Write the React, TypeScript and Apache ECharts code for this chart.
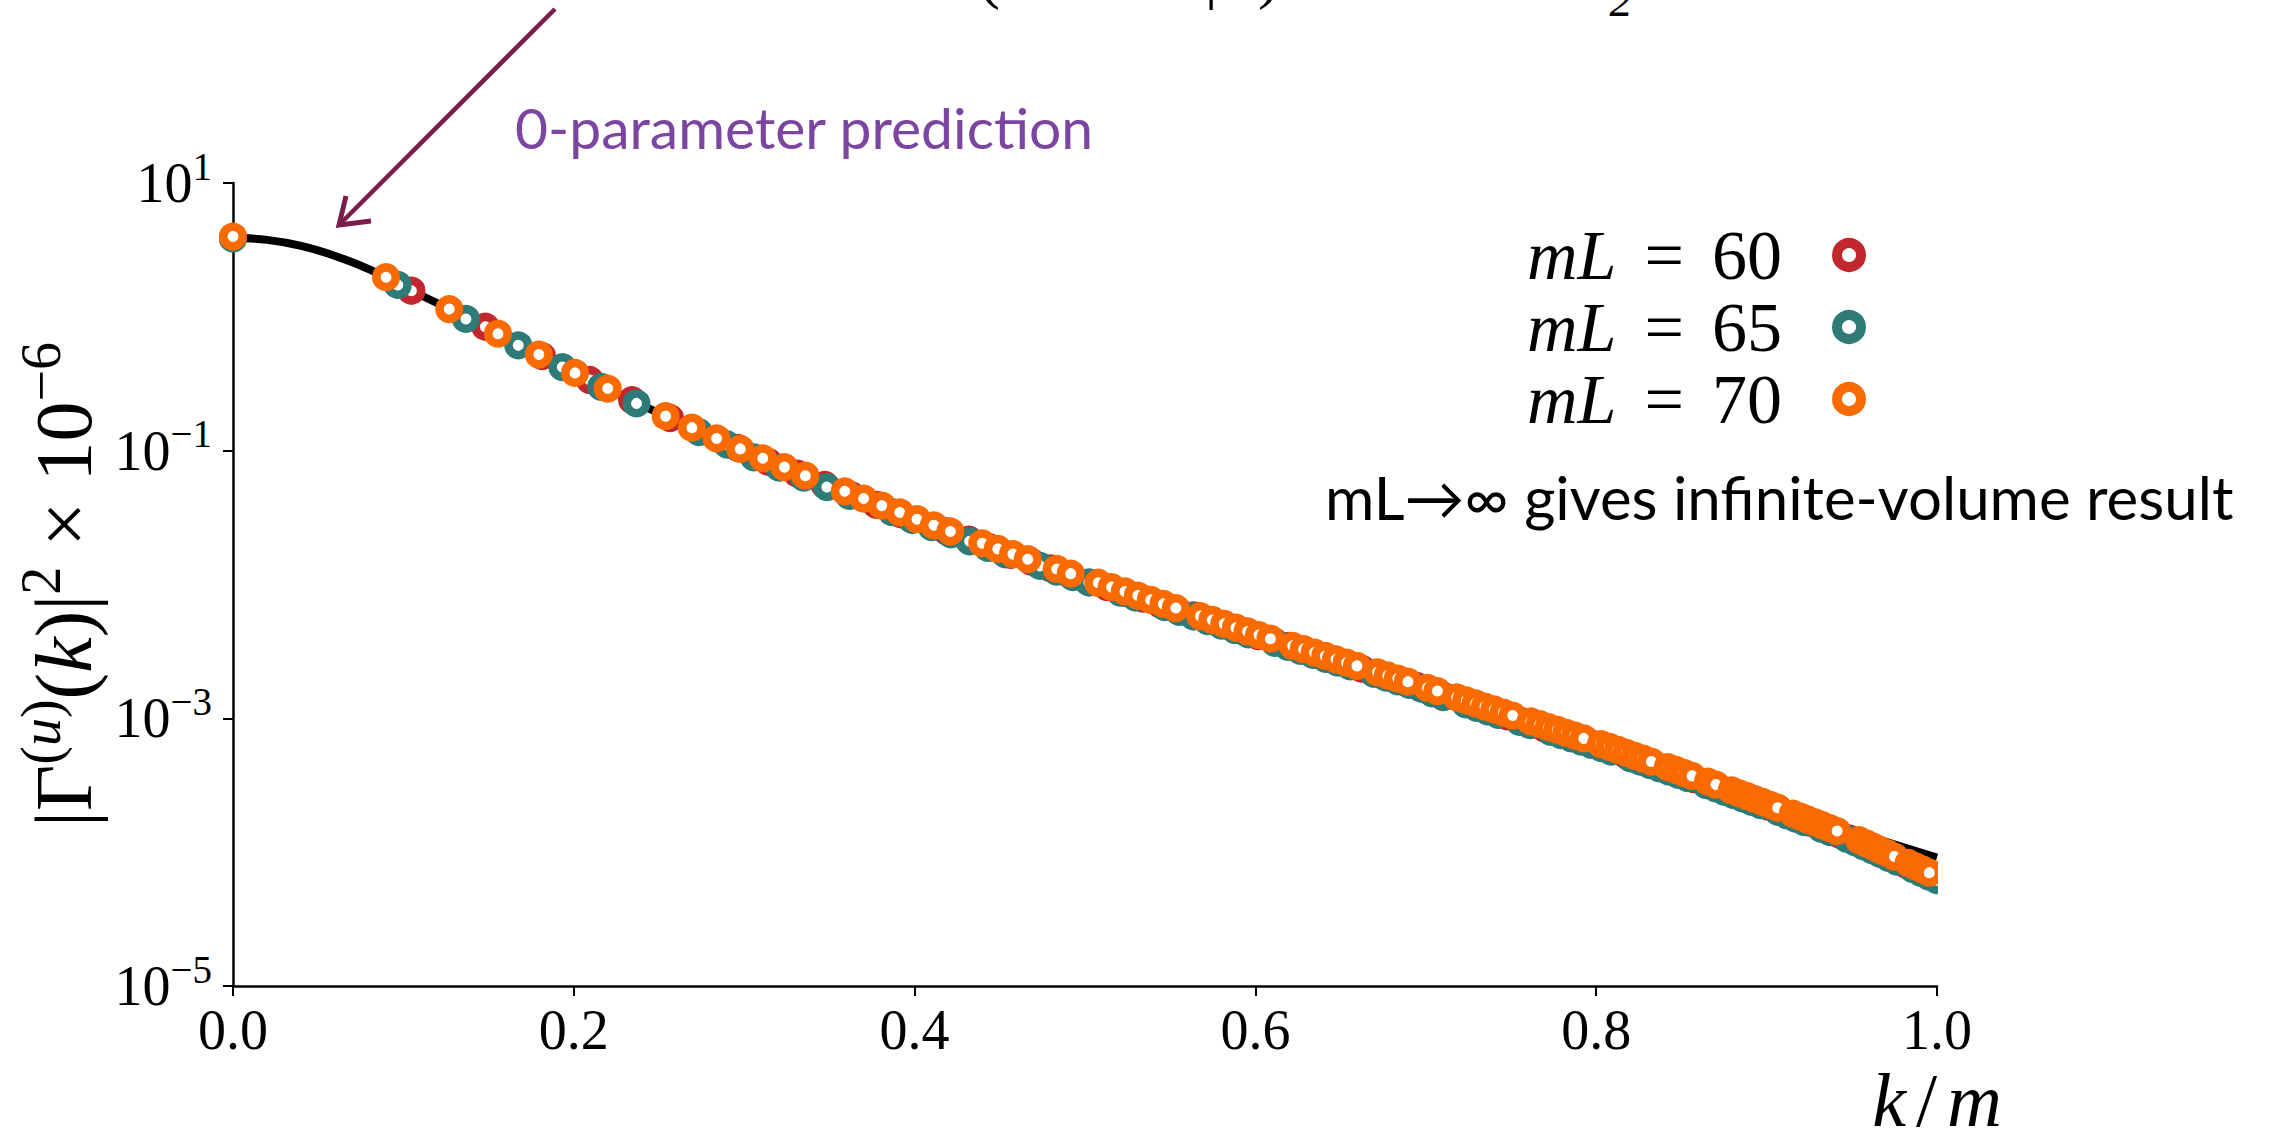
import React, { useEffect, useRef } from "react";
import * as echarts from "echarts";

// k/m of the allowed lattice momenta in each box, with log10(|Γ(u)(k)|² × 10⁶)
const k60 = [0, 0.1047, 0.1481, 0.1814, 0.2094, 0.2342, 0.2565, 0.2962, 0.3142, 0.3312,
  0.3473, 0.3628, 0.3776, 0.3918, 0.4189, 0.4318, 0.4443, 0.4565, 0.4683, 0.4799,
  0.4912, 0.5130, 0.5236, 0.5340, 0.5441, 0.5639, 0.5736, 0.5924, 0.6016, 0.6106,
  0.6195, 0.6283, 0.6370, 0.6455, 0.6623, 0.6705, 0.6787, 0.6867, 0.6946, 0.7025,
  0.7102, 0.7255, 0.7330, 0.7405, 0.7478, 0.7551, 0.7624, 0.7695, 0.7836, 0.7906,
  0.7975, 0.8044, 0.8179, 0.8246, 0.8378, 0.8443, 0.8507, 0.8572, 0.8635, 0.8699,
  0.8761, 0.8886, 0.8947, 0.9008, 0.9069, 0.9129, 0.9189, 0.9249, 0.9366, 0.9425,
  0.9483, 0.9540, 0.9598, 0.9655, 0.9711, 0.9823, 0.9879, 0.9934, 0.9990];
const log60 = [0.590, 0.195, -0.074, -0.294, -0.472, -0.622, -0.756, -0.979, -1.084, -1.172,
  -1.256, -1.333, -1.405, -1.475, -1.604, -1.664, -1.723, -1.778, -1.829, -1.879,
  -1.927, -2.019, -2.063, -2.106, -2.148, -2.230, -2.270, -2.348, -2.386, -2.422,
  -2.458, -2.493, -2.528, -2.562, -2.629, -2.661, -2.694, -2.725, -2.757, -2.798,
  -2.830, -2.894, -2.925, -2.956, -2.986, -3.016, -3.046, -3.075, -3.133, -3.161,
  -3.190, -3.219, -3.279, -3.308, -3.366, -3.395, -3.423, -3.454, -3.483, -3.514,
  -3.543, -3.601, -3.630, -3.659, -3.690, -3.720, -3.750, -3.780, -3.838, -3.868,
  -3.897, -3.929, -3.963, -3.996, -4.029, -4.096, -4.129, -4.161, -4.194];

const k65 = [0, 0.0967, 0.1367, 0.1674, 0.1933, 0.2161, 0.2368, 0.2734, 0.2900, 0.3057,
  0.3206, 0.3349, 0.3485, 0.3617, 0.3867, 0.3986, 0.4101, 0.4214, 0.4323, 0.4430,
  0.4534, 0.4736, 0.4833, 0.4929, 0.5023, 0.5206, 0.5295, 0.5468, 0.5553, 0.5636,
  0.5719, 0.5800, 0.5880, 0.5959, 0.6114, 0.6190, 0.6265, 0.6339, 0.6412, 0.6484,
  0.6556, 0.6697, 0.6767, 0.6835, 0.6903, 0.6971, 0.7037, 0.7103, 0.7234, 0.7298,
  0.7362, 0.7425, 0.7550, 0.7611, 0.7733, 0.7793, 0.7853, 0.7912, 0.7971, 0.8030,
  0.8088, 0.8202, 0.8259, 0.8315, 0.8371, 0.8427, 0.8482, 0.8537, 0.8646, 0.8700,
  0.8753, 0.8807, 0.8859, 0.8912, 0.8964, 0.9068, 0.9119, 0.9170, 0.9221, 0.9322,
  0.9372, 0.9471, 0.9520, 0.9569, 0.9618, 0.9666, 0.9715, 0.9763, 0.9858, 0.9905,
  0.9952, 0.9999];
const log65 = [0.585, 0.238, -0.016, -0.213, -0.375, -0.523, -0.647, -0.861, -0.954, -1.050,
  -1.127, -1.201, -1.272, -1.337, -1.460, -1.518, -1.572, -1.626, -1.677, -1.727,
  -1.775, -1.861, -1.903, -1.944, -1.985, -2.060, -2.097, -2.169, -2.204, -2.239,
  -2.273, -2.307, -2.340, -2.373, -2.436, -2.466, -2.496, -2.526, -2.555, -2.584,
  -2.612, -2.668, -2.696, -2.723, -2.750, -2.777, -2.813, -2.841, -2.895, -2.921,
  -2.948, -2.974, -3.026, -3.051, -3.101, -3.125, -3.150, -3.174, -3.198, -3.223,
  -3.249, -3.299, -3.324, -3.349, -3.373, -3.398, -3.422, -3.447, -3.499, -3.524,
  -3.549, -3.574, -3.599, -3.624, -3.648, -3.699, -3.725, -3.750, -3.776, -3.826,
  -3.851, -3.901, -3.927, -3.956, -3.985, -4.013, -4.042, -4.070, -4.126, -4.154,
  -4.182, -4.209];

const k70 = [0, 0.0898, 0.1269, 0.1555, 0.1795, 0.2007, 0.2199, 0.2539, 0.2693, 0.2838,
  0.2977, 0.3109, 0.3236, 0.3359, 0.3590, 0.3701, 0.3808, 0.3913, 0.4014, 0.4113,
  0.4210, 0.4397, 0.4488, 0.4577, 0.4664, 0.4834, 0.4916, 0.5078, 0.5156, 0.5234,
  0.5310, 0.5386, 0.5460, 0.5533, 0.5677, 0.5747, 0.5817, 0.5886, 0.5954, 0.6021,
  0.6088, 0.6219, 0.6283, 0.6347, 0.6410, 0.6473, 0.6535, 0.6596, 0.6717, 0.6777,
  0.6836, 0.6895, 0.7010, 0.7068, 0.7181, 0.7237, 0.7292, 0.7347, 0.7402, 0.7456,
  0.7510, 0.7616, 0.7669, 0.7721, 0.7773, 0.7825, 0.7876, 0.7927, 0.8028, 0.8078,
  0.8128, 0.8178, 0.8227, 0.8275, 0.8324, 0.8420, 0.8468, 0.8515, 0.8563, 0.8656,
  0.8703, 0.8795, 0.8840, 0.8886, 0.8931, 0.8976, 0.9021, 0.9065, 0.9154, 0.9198,
  0.9241, 0.9285, 0.9328, 0.9371, 0.9414, 0.9542, 0.9584, 0.9626, 0.9667, 0.9709,
  0.9750, 0.9833, 0.9874, 0.9914, 0.9955];
const log70 = [0.600, 0.296, 0.058, -0.126, -0.282, -0.419, -0.536, -0.742, -0.828, -0.909,
  -0.987, -1.057, -1.123, -1.187, -1.304, -1.358, -1.411, -1.462, -1.512, -1.558,
  -1.604, -1.692, -1.734, -1.773, -1.811, -1.884, -1.919, -1.987, -2.020, -2.052,
  -2.083, -2.115, -2.145, -2.176, -2.236, -2.265, -2.294, -2.323, -2.351, -2.378,
  -2.405, -2.458, -2.483, -2.509, -2.534, -2.559, -2.584, -2.608, -2.656, -2.680,
  -2.703, -2.726, -2.772, -2.796, -2.843, -2.866, -2.889, -2.912, -2.934, -2.957,
  -2.979, -3.023, -3.044, -3.066, -3.087, -3.108, -3.129, -3.150, -3.192, -3.214,
  -3.236, -3.258, -3.280, -3.301, -3.323, -3.365, -3.386, -3.407, -3.430, -3.473,
  -3.495, -3.539, -3.560, -3.581, -3.603, -3.624, -3.646, -3.668, -3.712, -3.734,
  -3.756, -3.778, -3.799, -3.821, -3.842, -3.910, -3.935, -3.959, -3.984, -4.008,
  -4.033, -4.081, -4.106, -4.129, -4.153];

// Infinite-volume (0-parameter) prediction, log10 scale
const curveK = [0, 0.02, 0.04, 0.06, 0.08, 0.10, 0.125, 0.15, 0.175, 0.2, 0.25, 0.3, 0.35,
  0.4, 0.45, 0.5, 0.55, 0.6, 0.65, 0.7, 0.75, 0.8, 0.85, 0.9, 0.95, 1.0];
const curveLog = [0.59, 0.575, 0.53, 0.455, 0.355, 0.225, 0.07, -0.09, -0.255, -0.415, -0.72,
  -1.0, -1.26, -1.505, -1.74, -1.955, -2.162, -2.37, -2.57, -2.768, -2.975, -3.18, -3.395,
  -3.62, -3.84, -4.04];

const seriesNames = ["mL = 60", "mL = 65", "mL = 70"];
const seriesColors = ["#c3272e", "#2e7b77", "#f96a00"];
const yTickExponents = [-5, -3, -1, 1];

const SERIF = "'Liberation Serif', 'DejaVu Serif', serif";
const SANS = "Lato, 'Open Sans', 'Noto Sans', sans-serif";

const pairs = (xs: number[], ys: number[]) => xs.map((x, i) => [x, ys[i]]);

export default function App() {
  const ref = useRef<HTMLDivElement>(null);

  useEffect(() => {
    if (!ref.current) return;
    const chart = echarts.init(ref.current, null, { renderer: "svg" });

    const ringSeries = (name: string, color: string, xs: number[], ys: number[]) => ({
      type: "scatter",
      name,
      data: pairs(xs, ys),
      symbol: "circle",
      symbolSize: 19.5,
      itemStyle: { color: "#ffffff", borderColor: color, borderWidth: 8.5, opacity: 1 },
      emphasis: { disabled: true },
      z: 3,
    });

    const titleSup = [0, 0, 46, 0];

    chart.setOption({
      animation: false,
      backgroundColor: "#ffffff",
      grid: { left: 233, right: 337, top: 183, bottom: 155, containLabel: false },
      xAxis: {
        type: "value",
        min: 0,
        max: 1,
        interval: 0.2,
        splitLine: { show: false },
        axisLine: { onZero: false, lineStyle: { color: "#000", width: 2.5 } },
        axisTick: { length: 10, lineStyle: { color: "#000", width: 2 } },
        axisLabel: {
          margin: 16,
          color: "#000",
          fontFamily: SERIF,
          fontSize: 56,
          formatter: (v: number) => v.toFixed(1),
        },
        name: "{i|k}{n|/}{i|m}",
        nameLocation: "end",
        nameGap: 0,
        nameTextStyle: {
          align: "center",
          verticalAlign: "top",
          padding: [76, 0, 0, 0],
          color: "#000",
          fontFamily: SERIF,
          fontSize: 76,
          rich: {
            i: { fontFamily: SERIF, fontStyle: "italic", fontSize: 76, color: "#000" },
            n: { fontFamily: SERIF, fontSize: 76, color: "#000", padding: [0, 10, 0, 10] },
          },
        },
      },
      yAxis: {
        type: "value",
        min: -5,
        max: 1,
        interval: 1,
        splitLine: { show: false },
        axisLine: { lineStyle: { color: "#000", width: 2.5 } },
        axisTick: { length: 10, lineStyle: { color: "#000", width: 2 }, customValues: yTickExponents },
        axisLabel: {
          customValues: yTickExponents,
          margin: 21,
          color: "#000",
          formatter: (v: number) => {
            const e = Math.round(v);
            return `{b|10}{s|${e < 0 ? "\u2212" : ""}${Math.abs(e)}}`;
          },
          rich: {
            b: { fontFamily: SERIF, fontSize: 56, lineHeight: 56, color: "#000" },
            s: { fontFamily: SERIF, fontSize: 39, color: "#000", padding: [0, 0, 34, 0] },
          },
        },
        name: "{n||\u0393}{s|(}{si|u}{s|)}{n|(}{i|k}{n|)|}{s|2}{n| \u00d7 10}{s|\u22126}",
        nameLocation: "middle",
        nameRotate: 90,
        nameGap: 108,
        nameTextStyle: {
          color: "#000",
          fontFamily: SERIF,
          fontSize: 80,
          rich: {
            n: { fontFamily: SERIF, fontSize: 80, lineHeight: 80, color: "#000" },
            i: { fontFamily: SERIF, fontStyle: "italic", fontSize: 80, lineHeight: 80, color: "#000" },
            s: { fontFamily: SERIF, fontSize: 56, color: "#000", padding: titleSup },
            si: { fontFamily: SERIF, fontStyle: "italic", fontSize: 56, color: "#000", padding: titleSup },
          },
        },
      },
      legend: {
        data: seriesNames,
        orient: "vertical",
        right: 403,
        top: 215,
        align: "right",
        itemWidth: 24,
        itemHeight: 24,
        itemGap: 2,
        selectedMode: false,
        itemStyle: { borderWidth: 10 },
        formatter: (name: string) => `{i|mL}{e|=}{n|${name.split("= ")[1]}}`,
        textStyle: {
          color: "#000",
          fontFamily: SERIF,
          fontSize: 70,
          lineHeight: 64,
          padding: [0, 50, 0, 0],
          rich: {
            i: { fontFamily: SERIF, fontStyle: "italic", fontSize: 70, lineHeight: 64, color: "#000" },
            e: { fontFamily: SERIF, fontSize: 70, lineHeight: 64, color: "#000", padding: [0, 28, 0, 28] },
            n: { fontFamily: SERIF, fontSize: 70, lineHeight: 64, color: "#000" },
          },
        },
      },
      series: [
        {
          type: "line",
          name: "prediction",
          data: pairs(curveK, curveLog),
          showSymbol: false,
          smooth: 0.4,
          lineStyle: { color: "#000", width: 8, cap: "butt" },
          emphasis: { disabled: true },
          silent: true,
          z: 2,
        },
        ringSeries(seriesNames[0], seriesColors[0], k60, log60),
        ringSeries(seriesNames[1], seriesColors[1], k65, log65),
        ringSeries(seriesNames[2], seriesColors[2], k70, log70),
      ],
      graphic: {
        elements: [
          {
            id: "arrowShaft",
            type: "line",
            shape: { x1: 555, y1: 9, x2: 341, y2: 223 },
            style: { stroke: "#7b1d4b", lineWidth: 4.5 },
          },
          {
            id: "arrowHead",
            type: "polyline",
            shape: { points: [[346, 196], [339, 225], [371, 221]] },
            style: { stroke: "#7b1d4b", lineWidth: 5, fill: "none", lineJoin: "miter" },
          },
          {
            id: "predictionNote",
            type: "text",
            x: 515,
            y: 127,
            style: {
              text: "0-parameter prediction",
              fontFamily: SANS,
              fontSize: 57,
              fill: "#7b45a0",
              verticalAlign: "middle",
            },
          },
          {
            id: "volumeNote",
            type: "text",
            x: 1325,
            y: 497,
            style: {
              text: "mL\u2192\u221e gives infinite-volume result",
              fontFamily: SANS,
              fontSize: 60,
              fill: "#000",
              verticalAlign: "middle",
            },
          },
          {
            id: "topParenL",
            type: "text",
            x: 989,
            y: 6,
            style: { text: "(", fontFamily: SERIF, fontSize: 66, fill: "#000", align: "center", verticalAlign: "bottom" },
          },
          {
            id: "topBar",
            type: "text",
            x: 1211,
            y: 6,
            style: { text: "|", fontFamily: SERIF, fontSize: 66, fill: "#000", align: "center", verticalAlign: "bottom" },
          },
          {
            id: "topParenR",
            type: "text",
            x: 1269,
            y: 6,
            style: { text: ")", fontFamily: SERIF, fontSize: 66, fill: "#000", align: "center", verticalAlign: "bottom" },
          },
          {
            id: "topSub",
            type: "text",
            x: 1621,
            y: 23,
            style: { text: "2", fontFamily: SERIF, fontStyle: "italic", fontSize: 46, fill: "#000", align: "center", verticalAlign: "bottom" },
          },
        ],
      },
    });

    // Rings sitting on k/m = 1 are cut at the plot edge
    const edge = chart.convertToPixel({ gridIndex: 0 }, [1, -3]) as number[];
    const low = chart.convertToPixel({ gridIndex: 0 }, [1, -4.7]) as number[];
    chart.setOption({
      graphic: {
        elements: [
          {
            id: "edgeClip",
            type: "rect",
            z: 100,
            shape: { x: edge[0] + 1, y: edge[1], width: 30, height: low[1] - edge[1] },
            style: { fill: "#ffffff" },
          },
        ],
      },
    });

    return () => chart.dispose();
  }, []);

  return (
    <div
      ref={ref}
      style={{ position: "fixed", left: 0, top: 0, width: 2274, height: 1141, background: "#fff" }}
    />
  );
}
